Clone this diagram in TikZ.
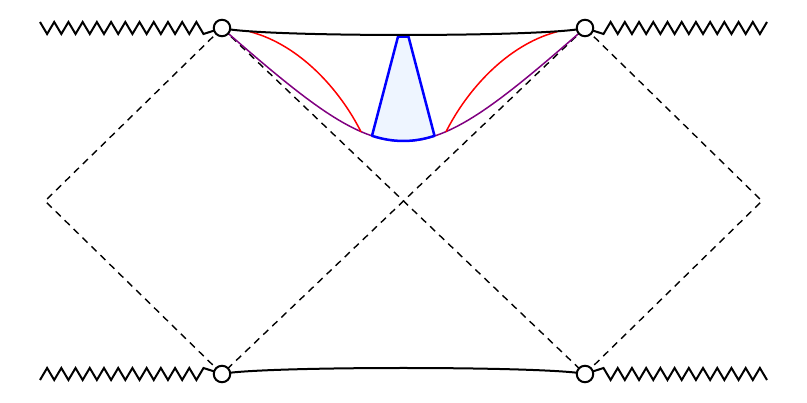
\documentclass[tikz,border=0pt]{standalone}
\usetikzlibrary{calc}
\definecolor{purp}{RGB}{128,0,128}
\definecolor{lightfill}{RGB}{238,245,255}
\begin{document}
\begin{tikzpicture}[x=1pt,y=-1pt,
  hole/.style={circle,draw=black,fill=white,line width=2pt,minimum size=16.5pt,inner sep=0pt},
  dashline/.style={black,line width=1.4pt,dash pattern=on 7pt off 5.5pt},
  solidcurve/.style={black,line width=2pt},
  zz/.style={black,line width=2pt,line join=miter},
  purpline/.style={purp,line width=1.5pt},
  redline/.style={red,line width=1.5pt},
  blueshape/.style={blue,line width=2.5pt,fill=lightfill,line join=round}]
\useasboundingbox (0,0) rectangle (807,403);
% anchor points
\coordinate (tl) at (222,28);
\coordinate (tr) at (585,28);
\coordinate (bl) at (222,374);
\coordinate (br) at (585,374);
\coordinate (lv) at (45,201);
\coordinate (rv) at (762,201);
% dashed diamonds
\draw[dashline] (tl) -- (lv) -- (bl);
\draw[dashline] (tr) -- (rv) -- (br);
\draw[dashline] (tl) -- (br);
\draw[dashline] (tr) -- (bl);
% purple curve
\draw[purpline] (tl) .. controls (395,179) and (412,179) .. (tr);
% red curves
\coordinate (ra1) at (250,31.7);
\coordinate (ra2) at (361,131.8);
\coordinate (rb1) at (557,31.7);
\coordinate (rb2) at (446,131.8);
\draw[redline] (ra1) .. controls (300,45) and (340,90) .. (ra2);
\draw[redline] (rb1) .. controls (507,45) and (467,90) .. (rb2);
% blue region
\coordinate (b1) at (372,135.8);
\coordinate (b2) at (398,36.7);
\coordinate (b3) at (408.5,36.7);
\coordinate (b4) at (434.5,135.8);
\draw[blueshape] (b1) -- (b2) -- (b3) -- (b4) .. controls (414,142.7) and (393,142.7) .. cycle;
% black curves
\draw[solidcurve] (tl) .. controls (256.8,37.3) and (550.2,37.3) .. (tr);
\draw[solidcurve] (bl) .. controls (257,366) and (550,366) .. (br);
% zigzags
\coordinate (z1) at (40,22);
\coordinate (z2) at (767,22);
\coordinate (z3) at (40,380);
\coordinate (z4) at (767,380);
\draw[zz] (z1) \foreach \i in {1,...,11}{ -- ++(7.109,12) -- ++(7.109,-12)} -- ++(7.109,12) -- (tl);
\draw[zz] (tr) -- (603.5,34) \foreach \i in {1,...,11}{ -- ++(7.109,-12) -- ++(7.109,12)} -- (z2);
\draw[zz] (z3) \foreach \i in {1,...,11}{ -- ++(7.109,-12) -- ++(7.109,12)} -- ++(7.109,-12) -- (bl);
\draw[zz] (br) -- (603.5,368) \foreach \i in {1,...,11}{ -- ++(7.109,12) -- ++(7.109,-12)} -- (z4);
% circles
\node[hole] (ctl) at (tl) {};
\node[hole] (ctr) at (tr) {};
\node[hole] (cbl) at (bl) {};
\node[hole] (cbr) at (br) {};
\end{tikzpicture}
\end{document}
